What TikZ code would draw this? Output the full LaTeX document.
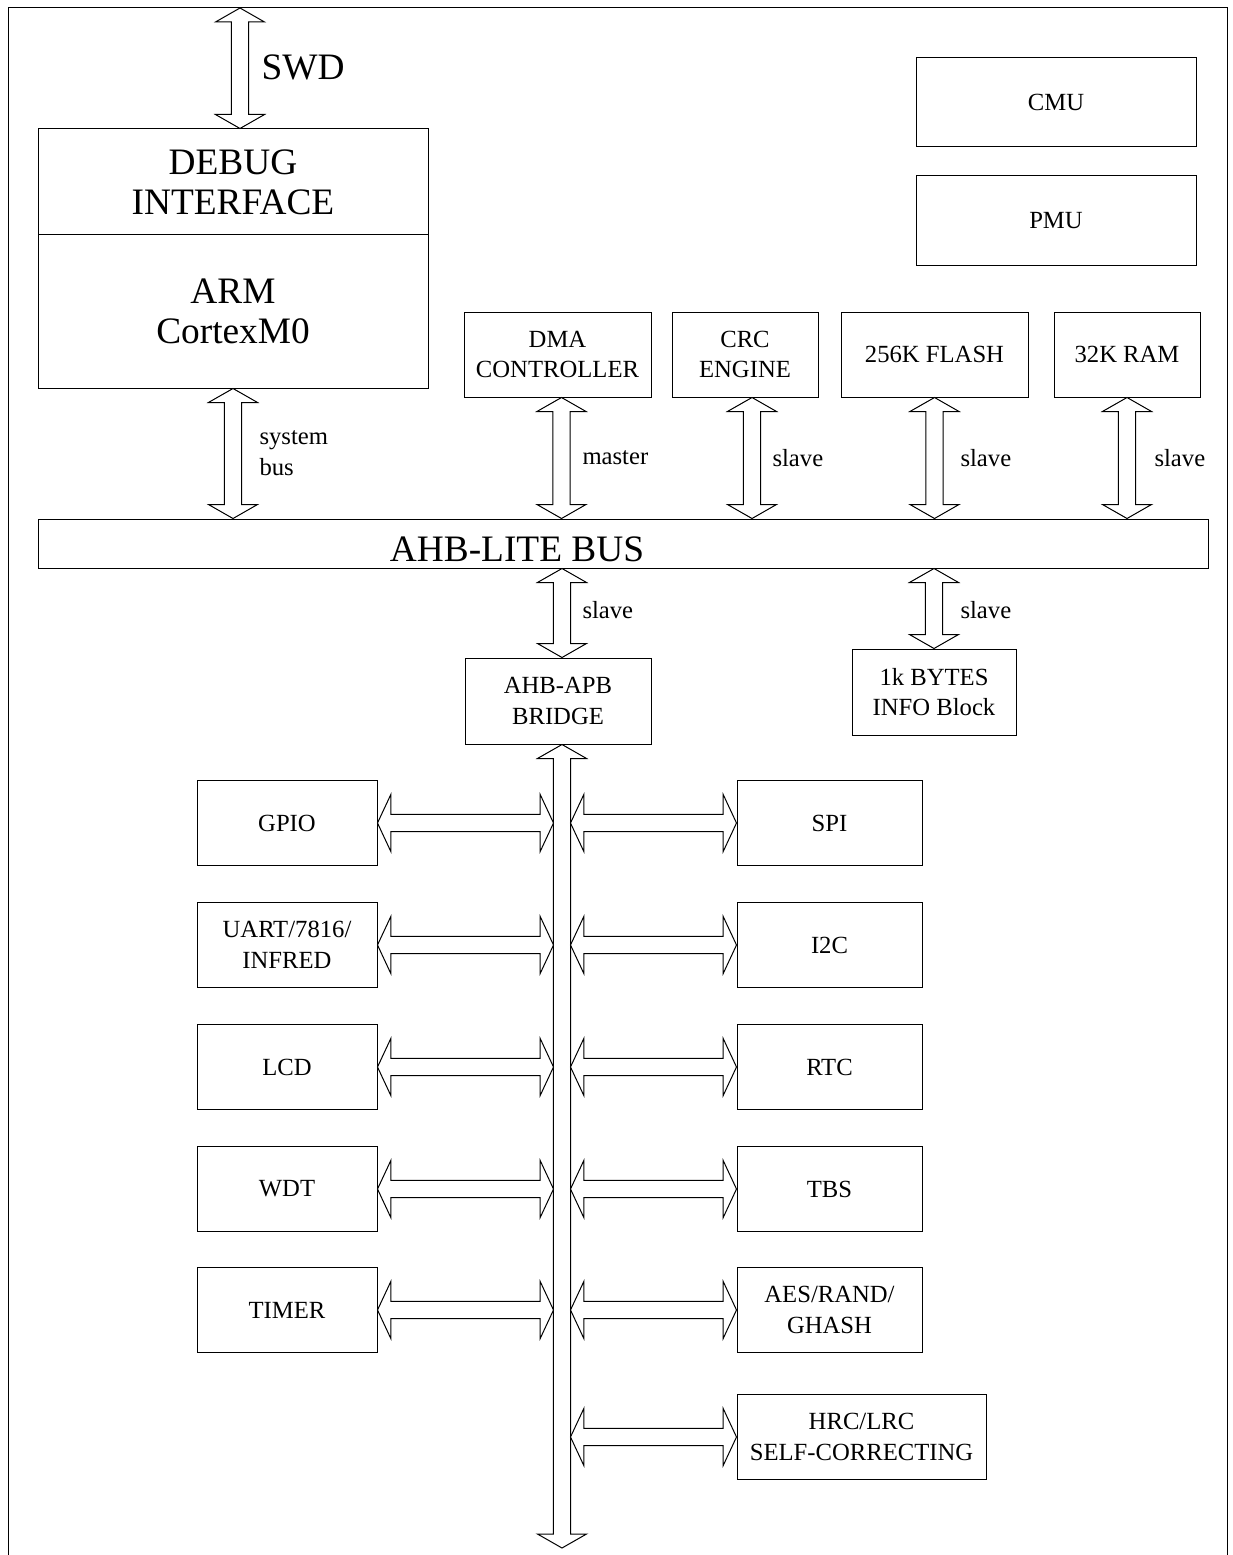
\documentclass[tikz,border=0pt]{standalone}
\usepackage{fontspec}
\setmainfont{Liberation Serif}
\usetikzlibrary{calc}
\newcommand{\titlefont}{\fontsize{28}{30}\selectfont}
\newcommand{\blockfont}{\fontsize{18.5}{23}\selectfont}
\tikzstyle{block} = [draw, rectangle, align=center, inner sep=1pt,
    minimum height=63.75pt, font=\blockfont]
\tikzstyle{lbl} = [anchor=west, align=left, inner sep=0pt, font=\blockfont]
\tikzstyle{bus} = [draw, fill=white, line join=miter]
% hollow double arrows: \vbus{top}{bottom}, \hbus{left}{right}
\newcommand{\vbus}[2]{\path[bus] let \p1=#1, \p2=#2 in
  (\x1,\y1) -- ++(-18.4pt,-10.5pt) -- ++(12pt,0pt) -- (\x1-6.4pt,\y2+10.5pt)
  -- ++(-12pt,0pt) -- (\x1,\y2) -- ++(18.4pt,10.5pt) -- ++(-12pt,0pt)
  -- (\x1+6.4pt,\y1-10.5pt) -- ++(12pt,0pt) -- cycle;}
\newcommand{\hbus}[2]{\path[bus] let \p1=#1, \p2=#2 in
  (\x1,\y1) -- ++(10pt,21.4pt) -- ++(0pt,-15pt) -- (\x2-10pt,\y1+6.4pt)
  -- ++(0pt,15pt) -- (\x2,\y1) -- ++(-10pt,-21.4pt) -- ++(0pt,15pt)
  -- (\x1+10pt,\y1-6.4pt) -- ++(0pt,-15pt) -- cycle;}

\begin{document}
\begin{tikzpicture}[x=0.75pt, y=-0.75pt, line width=0.75pt]
\useasboundingbox (0,0) rectangle (1232,1555);
\coordinate (swdtop) at (240,8);
\coordinate (apb) at (562,1548);

\draw (8,1555) -- (8,8) -- (1227,8) -- (1227,1555);

% core and AHB side
\node[block, name=debug, minimum width=292.5pt, minimum height=79.5pt, font=\titlefont] at (233,182) {DEBUG\\INTERFACE};
\node[block, name=arm, minimum width=292.5pt, minimum height=114.75pt, font=\titlefont] at (233,311.5) {ARM\\CortexM0};
\node[block, name=cmu, minimum width=210pt, minimum height=66.75pt] at (1056,102.5) {CMU};
\node[block, name=pmu, minimum width=210pt, minimum height=66.75pt] at (1056,220.5) {PMU};
\node[block, name=dma, minimum width=140.25pt] at (557.5,354.5) {DMA\\CONTROLLER};
\node[block, name=crc, minimum width=109.5pt] at (745,354.5) {CRC\\ENGINE};
\node[block, name=flash, minimum width=140.25pt] at (934.5,354.5) {256K FLASH};
\node[block, name=ram, minimum width=109.5pt] at (1127,354.5) {32K RAM};
\node[block, name=ahb, minimum width=877.5pt, minimum height=36.75pt] at (623,543.5) {};
\node[name=ahbtext, font=\titlefont, inner sep=0pt] at (517,549) {AHB-LITE BUS};
\node[block, name=bridge, minimum width=139.5pt, minimum height=64.5pt] at (558,701) {AHB-APB\\BRIDGE};
\node[block, name=info, minimum width=123pt, minimum height=64.5pt] at (934,692) {1k BYTES\\INFO Block};

\vbus{(swdtop)}{(swdtop |- debug.north)}
\vbus{(arm.south)}{(arm.south |- ahb.north)}
\vbus{($(dma.south)+(4,0)$)}{($(dma.south |- ahb.north)+(4,0)$)}
\vbus{($(crc.south)+(7,0)$)}{($(crc.south |- ahb.north)+(7,0)$)}
\vbus{(flash.south)}{(flash.south |- ahb.north)}
\vbus{(ram.south)}{(ram.south |- ahb.north)}
\vbus{(apb |- ahb.south)}{(apb |- bridge.north)}
\vbus{(info.north |- ahb.south)}{(info.north)}

\node[lbl, name=swd, font=\titlefont] at (261,67) {SWD};
\node[lbl, name=sysbus] at (259,453) {system\\bus};
\node[lbl, name=master] at (582,458) {master};
\node[lbl, name=crcslave] at (772,458) {slave};
\node[lbl, name=flashslave] at (960,458) {slave};
\node[lbl, name=ramslave] at (1154,458) {slave};
\node[lbl, name=bridgeslave] at (582,610) {slave};
\node[lbl, name=infoslave] at (960,610) {slave};

% APB side
\node[block, name=gpio, minimum width=135pt] at (287,823) {GPIO};
\node[block, name=uart, minimum width=135pt] at (287,945) {UART/7816/\\INFRED};
\node[block, name=lcd, minimum width=135pt] at (287,1067) {LCD};
\node[block, name=wdt, minimum width=135pt] at (287,1189) {WDT};
\node[block, name=timer, minimum width=135pt] at (287,1310) {TIMER};
\node[block, name=spi, minimum width=138.75pt] at (829.5,823) {SPI};
\node[block, name=iic, minimum width=138.75pt] at (829.5,945) {I2C};
\node[block, name=rtc, minimum width=138.75pt] at (829.5,1067) {RTC};
\node[block, name=tbs, minimum width=138.75pt] at (829.5,1189) {TBS};
\node[block, name=aes, minimum width=138.75pt] at (829.5,1310) {AES/RAND/\\GHASH};
\node[block, name=hrc, minimum width=186.75pt] at (861.5,1437) {HRC/LRC\\SELF-CORRECTING};

\vbus{(apb |- bridge.south)}{(apb)}

\hbus{(gpio.east)}{($(apb |- gpio.east)+(-8.5,0)$)}
\hbus{(uart.east)}{($(apb |- uart.east)+(-8.5,0)$)}
\hbus{(lcd.east)}{($(apb |- lcd.east)+(-8.5,0)$)}
\hbus{(wdt.east)}{($(apb |- wdt.east)+(-8.5,0)$)}
\hbus{(timer.east)}{($(apb |- timer.east)+(-8.5,0)$)}
\hbus{($(apb |- spi.west)+(8.5,0)$)}{(spi.west)}
\hbus{($(apb |- iic.west)+(8.5,0)$)}{(iic.west)}
\hbus{($(apb |- rtc.west)+(8.5,0)$)}{(rtc.west)}
\hbus{($(apb |- tbs.west)+(8.5,0)$)}{(tbs.west)}
\hbus{($(apb |- aes.west)+(8.5,0)$)}{(aes.west)}
\hbus{($(apb |- hrc.west)+(8.5,0)$)}{(hrc.west)}

\end{tikzpicture}
\end{document}
